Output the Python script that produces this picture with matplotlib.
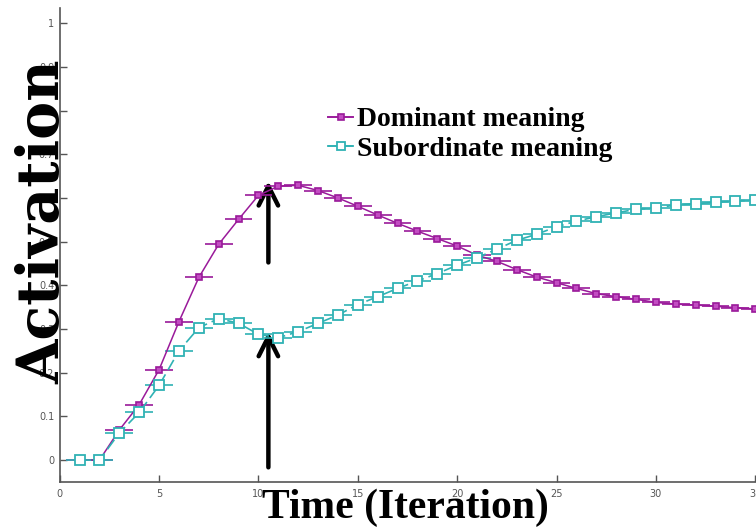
import matplotlib.pyplot as plt
from matplotlib.patches import FancyArrowPatch

# iterations and activation values
iters = list(range(1, 36))
dominant = [0.0, 0.0, 0.069, 0.127, 0.207, 0.317, 0.418, 0.494, 0.551, 0.606,
            0.627, 0.629, 0.617, 0.600, 0.581, 0.561, 0.542, 0.524, 0.507, 0.490,
            0.469, 0.455, 0.436, 0.419, 0.406, 0.393, 0.381, 0.374, 0.368, 0.361,
            0.357, 0.355, 0.352, 0.349, 0.346]
subordinate = [0.0, 0.0, 0.062, 0.109, 0.171, 0.250, 0.303, 0.324, 0.313, 0.288,
               0.280, 0.294, 0.313, 0.332, 0.356, 0.374, 0.393, 0.410, 0.427, 0.446,
               0.463, 0.483, 0.503, 0.517, 0.534, 0.547, 0.557, 0.566, 0.574, 0.577,
               0.584, 0.587, 0.590, 0.593, 0.595]
xticks = [0, 5, 10, 15, 20, 25, 30, 35]
yticks = [0, 0.1, 0.2, 0.3, 0.4, 0.5, 0.6, 0.7, 0.8, 0.9, 1]
ytick_labels = ['0', '0.1', '0.2', '0.3', '0.4', '0.5', '0.6', '0.7', '0.8', '0.9', '1']

purple = '#9a1a9a'
cyan = '#2fb2b4'

fig = plt.figure(figsize=(7.56, 5.29), dpi=100)
ax = fig.add_axes([0.079, 0.089, 0.92, 0.896])

ax.errorbar(iters, dominant, xerr=0.7, color=purple, lw=1.1, elinewidth=1.2,
            marker='s', ms=5, mfc='#c24cc2', mec=purple, mew=1.2, capsize=0,
            label='Dominant meaning')
ax.errorbar(iters, subordinate, xerr=0.7, color=cyan, lw=1.2, elinewidth=1.2,
            ls=(0, (7, 3)), marker='s', ms=7, mfc='white', mec=cyan, mew=1.3,
            capsize=0, label='Subordinate meaning')

# the two arrows marking iteration ~10.5
for y0, y1 in [(0.446, 0.645), (-0.023, 0.300)]:
    ax.add_patch(FancyArrowPatch((10.5, y0), (10.5, y1),
                                 arrowstyle='->,head_length=0.7,head_width=0.35',
                                 color='black', lw=3.2, mutation_scale=20, clip_on=False))

ax.set_xlim(0, 35)
ax.set_ylim(-0.05, 1.035)
ax.set_xticks(xticks)
ax.set_yticks(yticks)
ax.set_yticklabels(ytick_labels)
ax.tick_params(direction='in', length=5, width=1, color='#555555',
               labelsize=7, labelcolor='#555555')
ax.tick_params(axis='x', pad=5)
ax.tick_params(axis='y', pad=4)
for s in ['top', 'right']:
    ax.spines[s].set_visible(False)
for s in ['left', 'bottom']:
    ax.spines[s].set_color('#555555')
    ax.spines[s].set_linewidth(1.2)

leg = ax.legend(loc='upper left', bbox_to_anchor=(303 / 756, 1 - 82 / 529),
                bbox_transform=fig.transFigure, frameon=False, markerscale=0.8,
                handlelength=0.9, handletextpad=0.15, labelspacing=0.15,
                prop={'family': 'Liberation Serif', 'weight': 'bold', 'size': 20})

fig.text(0.058, 0.58, 'Activation', rotation=90, ha='center', va='center',
         family='DejaVu Serif', weight='bold', fontsize=41)
fig.text(0.536, 0.04, 'Time (Iteration)', ha='center', va='center',
         family='Liberation Serif', weight='bold', fontsize=30)

fig.savefig('out.png', dpi=100)
